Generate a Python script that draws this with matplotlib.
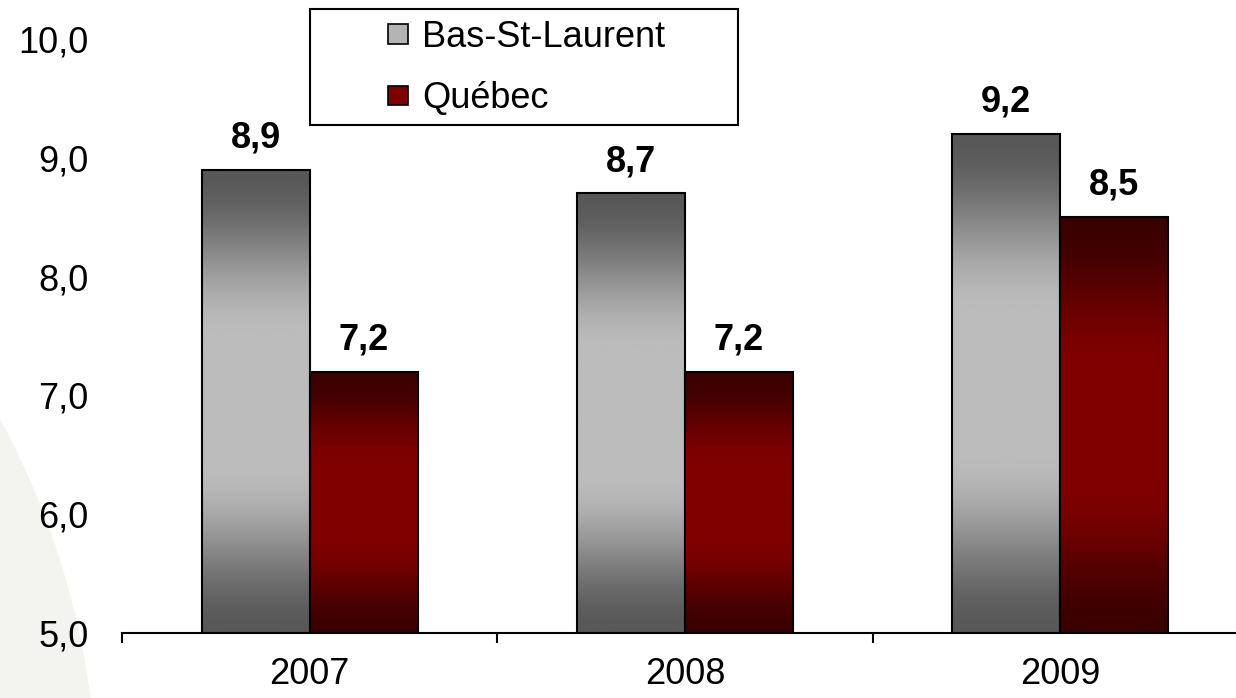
import numpy as np
import matplotlib
matplotlib.use("Agg")
import matplotlib.pyplot as plt
from matplotlib.patches import Circle, Rectangle, Patch
from matplotlib.colors import LinearSegmentedColormap
from matplotlib.ticker import FuncFormatter

plt.rcParams['font.family'] = ['Liberation Sans', 'DejaVu Sans']

# donnees
annees = ['2007', '2008', '2009']
bas_st_laurent = [8.9, 8.7, 9.2]
quebec = [7.2, 7.2, 8.5]
series = ['Bas-St-Laurent', 'Québec']

fig = plt.figure(figsize=(12.36, 6.98), dpi=100)

# fond clair (filigrane) a gauche
fig.patches.append(Circle((-7.0, -1.02), 7.97, transform=fig.dpi_scale_trans,
                          facecolor='#f3f3f0', edgecolor='none', zorder=-5))

ax = fig.add_axes([122 / 1236, 65 / 698, 1126 / 1236, 594 / 698])
ax.set_facecolor('none')

gris = LinearSegmentedColormap.from_list('gris', ['#585858', '#bcbcbc'])
rouge = LinearSegmentedColormap.from_list('rouge', ['#3a0000', '#800000'])


def profil(n=256):
    t = np.linspace(0, 1, n)
    p = np.clip((0.5 - np.abs(t - 0.5)) / 0.36, 0, 1)
    p = p * p * (3 - 2 * p)
    return p.reshape(-1, 1)


largeur = 0.288
x = np.arange(len(annees))
base = 5.0
taille = 26

for valeurs, cmap, dx in [(bas_st_laurent, gris, -largeur / 2), (quebec, rouge, largeur / 2)]:
    for xi, v in zip(x, valeurs):
        x0 = xi + dx - largeur / 2
        ax.imshow(profil(), cmap=cmap, vmin=0, vmax=1, aspect='auto',
                  extent=[x0, x0 + largeur, base, v], zorder=2, interpolation='bilinear')
    barres = ax.bar(x + dx, np.array(valeurs) - base, largeur, bottom=base,
                    facecolor='none', edgecolor='black', linewidth=1.5, zorder=3)
    for b, v in zip(barres, valeurs):
        ax.annotate(f"{v:.1f}".replace('.', ','), (b.get_x() + b.get_width() / 2, v),
                    xytext=(0, 16), textcoords='offset points', ha='center', va='baseline',
                    fontsize=taille, fontweight='bold', zorder=4)

ax.set_xlim(-0.5, len(annees) - 0.5)
ax.set_ylim(5, 10)
ax.set_yticks(np.arange(5, 10.01, 1))
ax.yaxis.set_major_formatter(FuncFormatter(lambda v, p: f"{v:.1f}".replace('.', ',')))
ax.set_xticks(x)
ax.set_xticklabels(annees)
ax.set_xticks(np.arange(-0.5, len(annees), 1), minor=True)
ax.tick_params(axis='both', which='major', length=0, labelsize=taille)
ax.tick_params(axis='y', pad=24)
ax.tick_params(axis='x', pad=17)
ax.tick_params(axis='x', which='minor', length=7, width=1.5, direction='out')

for s in ['left', 'right', 'top']:
    ax.spines[s].set_visible(False)
ax.spines['bottom'].set_linewidth(1.5)

# legende
fig.patches.append(Rectangle((310 / 1236, 1 - 125 / 698), 428 / 1236, 116 / 698,
                             transform=fig.transFigure, facecolor='white',
                             edgecolor='black', linewidth=1.5, zorder=5))
poignees = [Patch(facecolor='#b4b4b4', edgecolor='black', linewidth=1.2),
            Patch(facecolor='#800000', edgecolor='black', linewidth=1.2)]
leg = fig.legend(poignees, series, loc='upper left', bbox_to_anchor=(388 / 1236, 1 - 20 / 698),
                 frameon=False, fontsize=taille, borderpad=0, borderaxespad=0,
                 handlelength=0.55, handleheight=0.47, handletextpad=0.4, labelspacing=0.73)
leg.set_zorder(6)

fig.savefig('out.png', dpi=100)
